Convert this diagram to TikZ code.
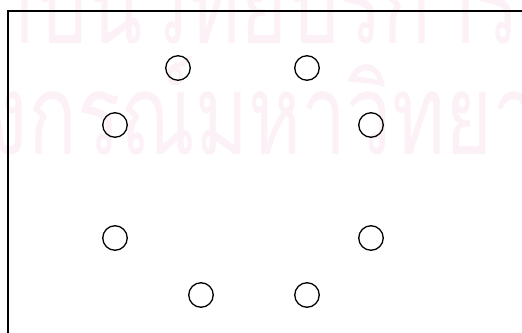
\documentclass[tikz,border=0pt]{standalone}
\usepackage{fontspec}
\usepackage{graphicx}
\newfontfamily\thaifont[Script=Thai]{Loma}
\definecolor{wmark}{RGB}{252,241,246}
\tikzset{
  dot/.style={circle,draw=black,line width=1.3pt,minimum size=24.5pt,inner sep=0pt},
  frameline/.style={draw=black,line width=1.8pt},
  wmtext/.style={inner sep=0pt,text=wmark,font=\thaifont\fontsize{112}{112}\selectfont}
}
\begin{document}
\begin{tikzpicture}[x=1pt,y=-1pt]
\useasboundingbox (0,0) rectangle (522,332);
\begin{scope}
\clip (0,0) rectangle (522,332);
\node[wmtext,anchor=base west] (wm1) at (36,43) {\scalebox{0.72}[1]{\llap{สถา}บันวิทยบริการ}};
\node[wmtext,anchor=base west] (wm2) at (28,154) {\scalebox{0.72}[1]{\llap{จุฬาลง}กรณ์มหาวิทยาลัย}};
\end{scope}
\coordinate (fbl) at (8,333);
\coordinate (ftl) at (8,11);
\coordinate (ftr) at (523,11);
\draw[frameline] (fbl) -- (ftl) -- (ftr);
\node[dot] (c1) at (178,68) {};
\node[dot] (c2) at (307,68) {};
\node[dot] (c3) at (115,125) {};
\node[dot] (c4) at (371,125) {};
\node[dot] (c5) at (115,238) {};
\node[dot] (c6) at (371,238) {};
\node[dot] (c7) at (201,295) {};
\node[dot] (c8) at (307,295) {};
\end{tikzpicture}
\end{document}
